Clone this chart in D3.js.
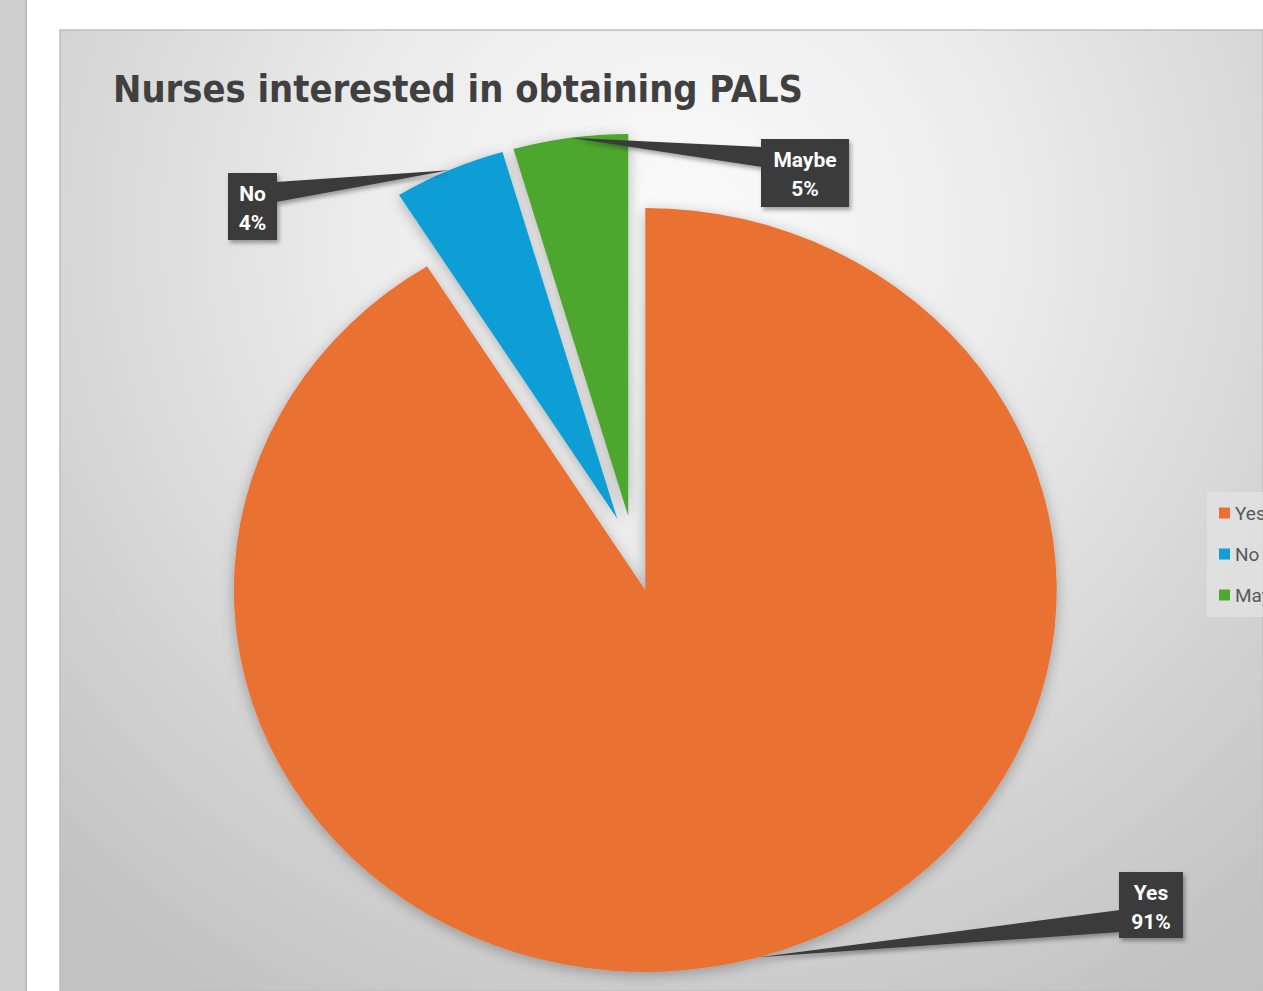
<!DOCTYPE html>
<html>
<head>
<meta charset="utf-8">
<script src="https://cdn.jsdelivr.net/npm/d3@7"></script>
<style>
  html, body { margin: 0; padding: 0; background: #ffffff; overflow: hidden; }
  svg { display: block; }
</style>
</head>
<body>
<svg id="chart" width="1263" height="991"></svg>
<script>
// ---- data ----
const title = "Nurses interested in obtaining PALS";
const categories = ["Yes", "No", "Maybe"];
const values = [91.1, 4.4, 4.5];
const colors = ["#E97132", "#0F9ED5", "#4EA72E"];

// ---- layout ----
const W = 1263, H = 991;
const center = [634, 553.5];
const R = 382;
const xStretch = 1.077;
const explode = 38;
const labelBoxes = [
  { x: 1119, y: 872, w: 64, h: 66, side: "left",  b0: 38, b1: 60 },
  { x: 228,  y: 173, w: 49, h: 67, side: "right", b0: 9,  b1: 29 },
  { x: 761,  y: 139, w: 88, h: 68, side: "left",  b0: 8,  b1: 28 }
];

const svg = d3.select("#chart");
const defs = svg.append("defs");

// page frame
svg.append("rect").attr("x", 0).attr("y", 0).attr("width", W).attr("height", H).attr("fill", "#ffffff");
svg.append("rect").attr("x", 0).attr("y", 0).attr("width", 27).attr("height", H).attr("fill", "#cfcfcf");
svg.append("rect").attr("x", 25).attr("y", 0).attr("width", 2).attr("height", H).attr("fill", "#bdbdbd");

const bg = defs.append("radialGradient").attr("id", "bg")
  .attr("gradientUnits", "userSpaceOnUse")
  .attr("cx", 680).attr("cy", 230).attr("r", 900);
bg.append("stop").attr("offset", "0").attr("stop-color", "#fbfbfb");
bg.append("stop").attr("offset", "0.35").attr("stop-color", "#ececec");
bg.append("stop").attr("offset", "1").attr("stop-color", "#c2c2c2");

svg.append("rect").attr("x", 60).attr("y", 30).attr("width", W - 60).attr("height", H - 30)
  .attr("fill", "url(#bg)").attr("stroke", "#bfbfbf").attr("stroke-width", 1.5);

// shadows
const sh = defs.append("filter").attr("id", "shadow").attr("x", "-20%").attr("y", "-20%").attr("width", "140%").attr("height", "140%");
sh.append("feDropShadow").attr("dx", 0).attr("dy", 3).attr("stdDeviation", 7)
  .attr("flood-color", "#000").attr("flood-opacity", 0.28);
const sh2 = defs.append("filter").attr("id", "shadow2").attr("x", "-30%").attr("y", "-30%").attr("width", "160%").attr("height", "160%");
sh2.append("feDropShadow").attr("dx", 2).attr("dy", 3).attr("stdDeviation", 2)
  .attr("flood-color", "#000").attr("flood-opacity", 0.35);

// title
svg.append("text")
  .attr("x", 113).attr("y", 102)
  .attr("font-family", "'DejaVu Sans Condensed', 'Liberation Sans Narrow', Roboto, sans-serif")
  .attr("font-stretch", "condensed")
  .attr("font-weight", 700).attr("font-size", 37)
  .attr("fill", "#404040")
  .attr("textLength", 690).attr("lengthAdjust", "spacingAndGlyphs")
  .text(title);

// pie
const total = d3.sum(values);
const arcs = d3.pie().sort(null).value(d => d)(values);
const arc = d3.arc().innerRadius(0).outerRadius(R);

const pieG = svg.append("g").attr("filter", "url(#shadow)");
const inner = pieG.append("g")
  .attr("transform", `translate(${center[0]},${center[1]}) scale(${xStretch},1)`);

function offsetOf(a) {
  const mid = (a.startAngle + a.endAngle) / 2;
  return [explode * Math.sin(mid), -explode * Math.cos(mid)];
}

inner.selectAll("path.slice").data(arcs).enter().append("path")
  .attr("class", "slice")
  .attr("transform", d => { const o = offsetOf(d); return `translate(${o[0]},${o[1]})`; })
  .attr("d", arc)
  .attr("fill", (d, i) => colors[i]);

// labels with callouts
const labG = svg.append("g");
arcs.forEach((a, i) => {
  const mid = (a.startAngle + a.endAngle) / 2;
  const o = offsetOf(a);
  const tip = [center[0] + xStretch * (o[0] + R * Math.sin(mid)),
               center[1] + (o[1] - R * Math.cos(mid))];
  const b = labelBoxes[i];
  const bx = b.side === "left" ? b.x + 1 : b.x + b.w - 1;
  const g = labG.append("g").attr("filter", "url(#shadow2)");
  g.append("path")
    .attr("d", d3.line()([tip, [bx, b.y + b.b0], [bx, b.y + b.b1]]) + "Z")
    .attr("fill", "#3b3b3b");
  g.append("rect").attr("x", b.x).attr("y", b.y).attr("width", b.w).attr("height", b.h)
    .attr("fill", "#3b3b3b");
  const pct = Math.round(values[i] / total * 100) + "%";
  const t = labG.append("text")
    .attr("text-anchor", "middle")
    .attr("font-family", "Roboto, 'Open Sans', sans-serif")
    .attr("font-weight", 700).attr("font-size", 21)
    .attr("fill", "#ffffff");
  t.append("tspan").attr("x", b.x + b.w / 2).attr("y", b.y + 28).text(categories[i]);
  t.append("tspan").attr("x", b.x + b.w / 2).attr("y", b.y + 57).text(pct);
});

// legend
const legG = svg.append("g");
legG.append("rect").attr("x", 1207).attr("y", 492).attr("width", 70).attr("height", 125)
  .attr("fill", "#e4e4e4").attr("opacity", 0.7);
const legY = d3.scalePoint().domain(categories).range([513, 595]);
categories.forEach((c, i) => {
  legG.append("rect").attr("x", 1219).attr("y", legY(c) - 5.5).attr("width", 11).attr("height", 11)
    .attr("fill", colors[i]);
  legG.append("text").attr("x", 1235).attr("y", legY(c) + 7)
    .attr("font-family", "Roboto, 'Open Sans', sans-serif").attr("font-size", 19)
    .attr("fill", "#595959").text(c);
});
</script>
</body>
</html>
